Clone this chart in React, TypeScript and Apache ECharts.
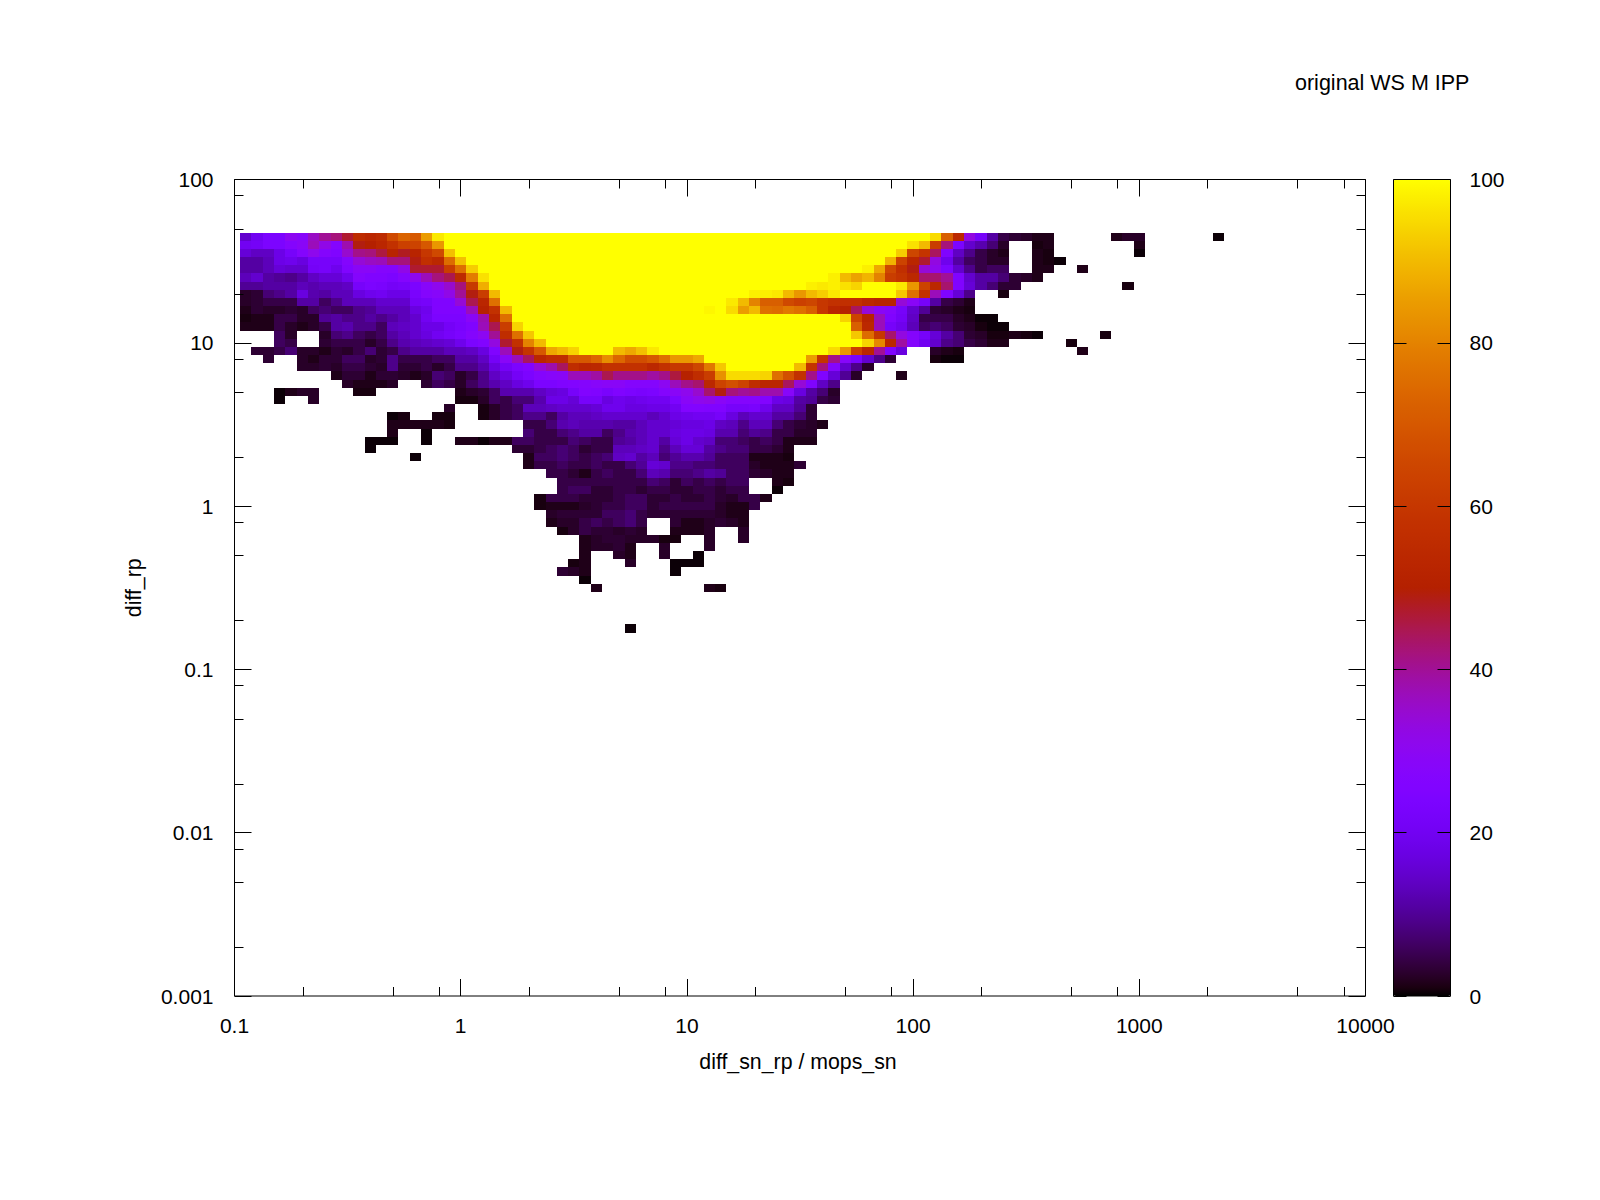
import React, { useEffect, useRef } from "react";
import * as echarts from "echarts";

const FONT = "Liberation Sans";
const titleText = "original WS M IPP";
const xName = "diff_sn_rp / mops_sn";
const yName = "diff_rp";
const binsPerDecade = 20;
const minorMultipliers = [2, 5, 8];
const xDecades = [0.1, 1, 10, 100, 1000];
const yDecades = [0.001, 0.01, 0.1, 1, 10];
const colorbarMax = 100;

// Each row runs from the top bin down: [first column, values...] segments.
const rowSegments: number[][][] = [
  [[0,15,20,24,24,30,28,36,40,42,47,55,53,55,66,73,70,85,97],[61,95,72,54,33,22,11,4.5,3.2,2.5,1.5,1.5],[77,1.5,2.5,2.5],[86,.4]],
  [[0,20,21,24,24,27,29,37,32,27,38,49,50,53,58,63,64,70,84],[59,96,90,62,42,24,15,12,7.5,2.5],[70,.9,1.5],[79,1.5]],
  [[0,16,14,14,18,22,27,31,27,25,35,41,42,46,52,48,52,60,66,91],[58,93,65,59,44,25,14,9,4.5,2.5,1.5],[70,1.5,.9],[79,.4]],
  [[0,11,11,13,18,19,17,22,22,22,27,34,36,37,42,42,49,57,54,75,91],[57,89,64,53,47,33,19,11,6,4.5,2.5,2.5],[70,1.5,.9,.4]],
  [[0,11,11,13,16,15,15,21,22,19,25,29,29,27,27,32,47,47,47,62,76,93],[55,98,87,66,57,49,34,31,24,15,9,4.5,6,6],[70,1.5,1.5],[74,1.5]],
  [[0,13,15,11,10,9,11,14,16,16,19,27,25,25,24,27,31,37,42,45,55,79,96],[52,98,90,86,89,80,62,59,54,43,43,40,25,15,11,11,7.5,3.2,2.5,1.5]],
  [[0,10,10,11,11,11,13,12,13,13,14,22,24,23,21,22,24,28,31,35,42,61,88],[50,98,97,98,96,94],[58,97,84,64,54,43,25,16,11,7.5,3.2,3.2],[78,.9]],
  [[0,2.5,3.2,7.5,9,11,17,12,11,13,13,17,19,20,18,18,23,27,28,32,40,49,62,90],[45,98,98,97,90,84,90,93,97],[58,92,76,58,37,25,16,9],[67,.9]],
  [[0,2.5,3.2,4.5,4.5,4.5,11,11,6,9,13,13,13,15,15,15,21,22,25,25,34,45,53,76],[43,97,90,80,72,72,66,63,65,60,58,57,57,54,52,52,34,29,22,11,4.5,3.2,1.5]],
  [[0,1.5,3.2,2.5,2.5,3.2,2.5,6,7.5,6,6,9,10,13,13,13,17,19,25,25,25,37,51,58,90],[41,99],[43,95,85,90,76,75,78,76,72,60,53,51,44,34,29,27,22,15,10,3.2,2.5,1.5,.9]],
  [[0,.9,1.5,1.5,4.5,4.5,2.5,2.5,10,11,9,9,11,9,11,13,15,20,24,24,24,29,38,53,76],[53,94,64,52,37,25,21,14,4.5,4.5,4.5,2.5,1.5,.4,.4]],
  [[0,1.5,1.5,1.5,4.5,2.5,1.5,2.5,4.5,11,12,9,9,6,13,14,15,18,18,21,23,25,37,45,62,94],[54,72,54,37,22,19,13,6,7.5,6,3.2,2.5,.9,.4,.4]],
  [[3,6,2.5],[7,2.5,7.5,9,6,4.5,6,11,13,15,17,20,22,24,27,30,40,56,76,92],[54,92,75,60,43,33,27,22,16,11,7.5,3.2,2.5,.9,.9,1.5,.9,.4],[76,.9]],
  [[3,6,4.5],[7,3.2,4.5,4.5,4.5,2.5,4.5,9,12,13,14,15,16,19,24,26,33,47,58,80,90],[55,94,81,54,39,27,20,15,9,7.5,4.5,3.2,1.5,1.5],[73,.9]],
  [[1,3.2,3.2,4.5,7.5,2.5,2.5,1.5,3.2,2.5,4.5,7.5,3.2,4.5,9,11,11,11,13,13,14,17,25,37,49,59,70,87,90,94],[33,90,87,91,97],[52,95,84,63,53,40,25,17],[61,2.5,1.5,.9],[74,1.5]],
  [[2,3.2],[5,2.5,1.5,3.2,3.2,6,6,2.5,3.2,9,4.5,4.5,4.5,6,6,11,11,14,21,29,37,44,53,56,56,70,70,74,82,74,67,67,70,76,84,84,87],[50,85,59,41,28,23,15,9,3.2],[61,.9,.4,.4]],
  [[5,2.5,2.5,3.2,2.5,4.5,4.5,3.2,2.5,9,3.2,3.2,4.5,2.5,4.5,9,9,12,17,21,24,26,34,38,44,56,53,54,58,58,58,58,54,58,60,60,65,78,92],[49,90,59,42,27,15,9,2.5]],
  [[8,1.5,3.2,3.2,1.5,3.2,3.2,2.5,1.5,2.5,7.5,6,2.5,4.5,9,14,17,21,24,27,28,29,37,37,39,45,41,41,41,39,41,46,51,56,62,83,95,95,95,94,76,68,58,41,25,16,10,2.5],[58,1.5]],
  [[9,2.5,1.5,1.5,1.5,2.5],[16,3.2,6,4.5,2.5,6,9,12,14,17,19,24,24,25,26,27,28,29,29,27,27,27,30,37,41,43,54,64,68,64,56,53,53,44,34,25,14,9]],
  [[3,.4,1.5,2.5,2.5],[10,.9,.9],[19,1.5,2.5,3.2,6,12,12,12,14,16,17,22,26,25,23,25,24,23,24,27,29,31,35,43,49,42,40,41,38,38,28,17,11,7.5,2.5]],
  [[3,.4],[6,2.5],[19,.9,.9,2.5,6,4.5,7.5,7.5,12,18,18,16,22,22,17,19,18,19,20,20,24,29,31,32,29,27,27,27,26,18,17,11,10,4.5,3.2]],
  [[18,2.5],[21,.9,2.5,4.5,6,13,13,14,15,15,15,16,19,19,17,17,18,18,20,26,26,25,25,22,22,23,19,14,14,10,3.2]],
  [[13,.4,.9],[17,.9,.9],[21,.9,2.5,4.5,6,9,9,6,11,13,13,14,15,15,15,15,13,15,18,19,20,20,22,17,13,15,15,11,11,7.5,3.2]],
  [[13,1.5,1.5,1.5,1.5,1.5,.9],[25,4.5,4.5,7.5,12,13,12,12,12,11,11,13,15,15,16,17,17,18,14,13,9,13,13,7.5,4.5,3.2,2.5,1.5]],
  [[13,1.5],[16,.4],[25,7.5,4.5,4.5,7.5,9,11,11,6,9,12,13,15,15,17,18,18,17,12,12,7.5,10,9,4.5,4.5,2.5,2.5]],
  [[11,.4,.4,.4],[16,.4],[19,1.5,1.5,.4,1.5,1.5,6,6,4.5,4.5,4.5,7.5,6,4.5,4.5,10,11,13,15,11,16,18,15,14,7.5,7.5,6,4.5,6,4.5,1.5,1.5,1.5]],
  [[11,.4],[24,3.2,3.2,4.5,6,7.5,6,3.2,4.5,4.5,13,13,14,15,9,13,16,16,11,9,7.5,7.5,4.5,4.5,3.2,1.5]],
  [[15,.4],[25,1.5,6,6,7.5,6,4.5,6,7.5,14,15,11,13,7.5,10,12,12,10,6,6,6,1.5,1.5,1.5,.9]],
  [[25,1.5,4.5,4.5,6,4.5,4.5,6,4.5,4.5,7.5,10,16,15,9,9,7.5,7.5,6,6,6,2.5,1.5,1.5,1.5,3.2]],
  [[27,4.5,4.5,3.2,1.5,4.5,6,4.5,4.5,7.5,13,12,7.5,7.5,9,11,10,6,6,3.2,2.5,1.5,1.5]],
  [[28,4.5,4.5,4.5,4.5,4.5,4.5,4.5,4.5,7.5,6,3.2,6,4.5,6,4.5,6,6],[47,1.5,.9]],
  [[28,4.5,6,6,3.2,3.2,4.5,4.5,3.2,4.5,4.5,3.2,3.2,4.5,4.5,3.2,4.5,4.5],[47,.4]],
  [[26,.9,4.5,4.5,4.5,3.2,3.2,3.2,4.5,6,6,3.2,3.2,4.5,3.2,3.2,4.5,3.2,2.5,4.5,4.5,1.5]],
  [[26,.9,1.5,1.5,1.5,2.5,3.2,4.5,4.5,6,6,3.2,4.5,4.5,4.5,4.5,4.5,2.5,1.5,1.5,4.5]],
  [[27,2.5,3.2,3.2,3.2,3.2,6,6,7.5,4.5,3.2,3.2,3.2,3.2,3.2,3.2,2.5,1.5,1.5]],
  [[27,1.5,2.5,2.5,4.5,6,4.5,6,7.5,4.5],[38,3.2,1.5,1.5,2.5,3.2,2.5,1.5]],
  [[28,.9,2.5,4.5,3.2,3.2,2.5,3.2,2.5],[38,1.5,1.5,1.5,2.5],[44,2.5]],
  [[30,1.5,2.5,3.2,3.2,2.5,2.5,2.5,.9,.9],[41,2.5],[44,2.5]],
  [[30,1.5,2.5,2.5,3.2,1.5],[37,2.5],[41,2.5]],
  [[30,1.5],[33,2.5,1.5],[37,2.5],[40,.4]],
  [[29,.9,1.5],[34,2.5],[38,.4,.4,.4]],
  [[28,3.2,2.5,1.5],[38,.4]],
  [[30,.4]],
  [[31,1.5],[41,1.5,.9]],
  [],
  [],
  [],
  [],
  [[34,.4]],
];

// Fully saturated (yellow) stretches: [row, first column, last column].
const saturatedRuns: number[][] = [
  [0,18,60],[1,18,58],[2,19,57],[3,20,56],[4,21,54],[5,22,51],[6,22,49],[6,55,57],
  [7,23,44],[7,53,57],[8,23,42],[9,24,40],[9,42,42],[10,24,52],[11,25,53],[12,26,53],
  [13,27,54],[14,30,32],[14,37,51],[15,41,49],[16,43,48],
];

// gnuplot's rgbformulae 7,5,15 palette
function paletteStop(t: number): string {
  const r = Math.sqrt(t);
  const g = t * t * t;
  const b = Math.max(0, Math.sin(2 * Math.PI * t));
  const c = (v: number) => Math.round(v * 255);
  return `rgb(${c(r)},${c(g)},${c(b)})`;
}
const paletteStops = Array.from({ length: 129 }, (_, i) => paletteStop(i / 128));

const binCenterX = (col: number) => Math.pow(10, -1 + (col + 1) / binsPerDecade);
const binCenterY = (row: number) => Math.pow(10, 2 - (row + 7) / binsPerDecade);
const halfBin = Math.pow(10, 0.5 / binsPerDecade);

function buildCells(): number[][] {
  const cells: number[][] = [];
  rowSegments.forEach((segments, row) => {
    segments.forEach(([start, ...values]) => {
      values.forEach((v, k) => cells.push([binCenterX(start + k), binCenterY(row), v]));
    });
  });
  saturatedRuns.forEach(([row, from, to]) => {
    for (let col = from; col <= to; col++) cells.push([binCenterX(col), binCenterY(row), colorbarMax]);
  });
  return cells;
}

const minorValues = (decades: number[]) =>
  decades.flatMap((d) => minorMultipliers.map((m) => d * m));

const logLabel = (v: number) => String(+Number(v).toPrecision(3));

export default function App() {
  const ref = useRef<HTMLDivElement>(null);
  useEffect(() => {
    const chart = echarts.init(ref.current!, undefined, { renderer: "svg" });
    const textStyle = { color: "#000", fontFamily: FONT, fontSize: 21 };
    const tickStyle = { color: "#000", width: 1 };
    const baseLog = {
      type: "log" as const,
      logBase: 10,
      gridIndex: 0,
      splitLine: { show: false },
      minorTick: { show: false },
      minorSplitLine: { show: false },
      axisLine: { show: false },
      axisTick: { show: true, inside: true, length: 17, lineStyle: tickStyle },
      z: 10,
    };
    const option: any = {
      animation: false,
      backgroundColor: "#fff",
      title: {
        text: titleText,
        left: 1295,
        top: 72,
        padding: 0,
        textStyle: { ...textStyle, fontWeight: "normal", fontSize: 21.5 },
      },
      grid: [
        { left: 234.5, width: 1131, top: 179.5, height: 816.5, show: true, borderColor: "#000", borderWidth: 1, backgroundColor: "transparent", containLabel: false },
        { left: 1393.5, width: 57, top: 179.5, height: 816.5, show: true, borderColor: "#000", borderWidth: 1, backgroundColor: "transparent", z: 6, containLabel: false },
      ],
      xAxis: [
        {
          ...baseLog, min: 0.1, max: 10000, position: "bottom",
          name: xName, nameLocation: "middle", nameGap: 55,
          nameTextStyle: { ...textStyle, fontSize: 21.3, padding: [0, 4, 0, 0] },
          axisLabel: { ...textStyle, margin: 19, formatter: logLabel, showMinLabel: true, showMaxLabel: true, hideOverlap: false },
        },
        { ...baseLog, min: 0.1, max: 10000, position: "top", axisLabel: { show: false } },
        { type: "value", gridIndex: 1, min: 0, max: 1, show: false },
      ],
      yAxis: [
        {
          ...baseLog, min: 0.001, max: 100, position: "left",
          name: yName, nameLocation: "middle", nameGap: 90,
          nameTextStyle: { ...textStyle, fontSize: 21.3 },
          axisLabel: { ...textStyle, margin: 21, padding: [0, 0, 6, 0], formatter: logLabel, showMinLabel: true, showMaxLabel: true, hideOverlap: false },
        },
        { ...baseLog, min: 0.001, max: 100, position: "right", axisLabel: { show: false } },
        {
          type: "value", gridIndex: 1, min: 0, max: colorbarMax, interval: 20, position: "left",
          splitLine: { show: false }, axisLine: { show: false }, axisLabel: { show: false },
          axisTick: { show: true, inside: true, length: 13, lineStyle: tickStyle }, z: 10,
        },
        {
          type: "value", gridIndex: 1, min: 0, max: colorbarMax, interval: 20, position: "right",
          splitLine: { show: false }, axisLine: { show: false },
          axisLabel: { ...textStyle, margin: 19, padding: [0, 0, 6, 0] },
          axisTick: { show: true, inside: true, length: 13, lineStyle: tickStyle }, z: 10,
        },
      ],
      visualMap: {
        type: "continuous",
        seriesIndex: 0,
        dimension: 2,
        min: 0,
        max: colorbarMax,
        left: 1393.5,
        top: 179.5,
        padding: 0,
        itemWidth: 57,
        itemHeight: 816.5,
        calculable: false,
        realtime: false,
        hoverLink: false,
        showLabel: false,
        text: undefined,
        z: 1,
        inRange: { color: paletteStops },
      },
      series: [
        {
          type: "custom",
          xAxisIndex: 0,
          yAxisIndex: 0,
          silent: true,
          progressive: 0,
          encode: { x: 0, y: 1 },
          data: buildCells(),
          renderItem: (_: any, api: any) => {
            const cx = api.value(0);
            const cy = api.value(1);
            const p0 = api.coord([cx / halfBin, cy * halfBin]);
            const p1 = api.coord([cx * halfBin, cy / halfBin]);
            const x = Math.round(p0[0]);
            const y = Math.round(p0[1]);
            return {
              type: "rect",
              shape: { x, y, width: Math.round(p1[0]) - x, height: Math.round(p1[1]) - y },
              style: { fill: api.visual("color") },
            };
          },
        },
        {
          type: "custom",
          xAxisIndex: 0,
          yAxisIndex: 0,
          silent: true,
          z: 8,
          encode: { x: 0, y: 1 },
          data: minorValues(xDecades).map((v) => [v, 1]),
          renderItem: (_: any, api: any) => {
            const v = api.value(0);
            const x = Math.round(api.coord([v, 1])[0]) + 0.5;
            const bottom = api.coord([v, 0.001])[1];
            const top = api.coord([v, 100])[1];
            const style = { stroke: "#000", lineWidth: 1 };
            return {
              type: "group",
              children: [
                { type: "line", shape: { x1: x, y1: bottom, x2: x, y2: bottom - 9 }, style },
                { type: "line", shape: { x1: x, y1: top, x2: x, y2: top + 9 }, style },
              ],
            };
          },
        },
        {
          type: "custom",
          xAxisIndex: 0,
          yAxisIndex: 0,
          silent: true,
          z: 8,
          encode: { x: 0, y: 1 },
          data: minorValues(yDecades).map((v) => [1, v]),
          renderItem: (_: any, api: any) => {
            const v = api.value(1);
            const y = Math.round(api.coord([1, v])[1]) + 0.5;
            const left = api.coord([0.1, v])[0];
            const right = api.coord([10000, v])[0];
            const style = { stroke: "#000", lineWidth: 1 };
            return {
              type: "group",
              children: [
                { type: "line", shape: { x1: left, y1: y, x2: left + 9, y2: y }, style },
                { type: "line", shape: { x1: right, y1: y, x2: right - 9, y2: y }, style },
              ],
            };
          },
        },
      ],
    };
    chart.setOption(option);
    return () => chart.dispose();
  }, []);
  return (
    <div
      ref={ref}
      style={{ position: "fixed", left: 0, top: 0, width: 1600, height: 1200, background: "#fff" }}
    />
  );
}
